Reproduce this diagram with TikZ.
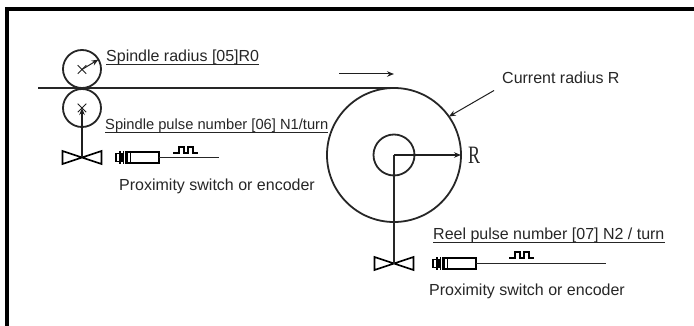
\documentclass[tikz,border=0pt]{standalone}
\usepackage{fontspec}
\setmainfont{Liberation Sans}
\newfontfamily\rfont{Liberation Serif}
\usetikzlibrary{shapes.misc, arrows.meta, positioning}

\begin{document}
\begin{tikzpicture}[
      x=1pt, y=-1pt,
      ink/.style={draw=black!85, line width=1.8pt},
      roll/.style={ink, circle, minimum size=38pt, inner sep=0pt, outer sep=0pt},
      rollmark/.style={cross out, draw=black!88, line width=1pt, minimum size=7.5pt, inner sep=0pt},
      lbl/.style={anchor=base west, inner sep=0pt, font=\fontsize{16}{18}\selectfont, text=black!85},
      arr/.style={-{Stealth[length=7pt, width=5.5pt]}, line width=1pt, draw=black!88},
      valve/.pic={\draw[line width=1.6pt] (-19.5,-6.5) -- (19.5,6.5) -- (19.5,-6.5) -- (-19.5,6.5) -- cycle;},
      sensor/.pic={
        \draw[line width=1.3pt] (0,-4) rectangle (6,4);
        \draw[line width=1.3pt] (10,-5.5) rectangle (43,5.5);
        \foreach \xrib in {4,7.5,11,14.5} \draw[line width=1.9pt] (\xrib,-6.5) -- (\xrib,6.5);
        \coordinate (-tail) at (43,0);
      },
      pulse/.pic={\draw[line width=1.1pt] (0,6) -- (6,6) -- (6,0) -- (11,0) -- (11,6) -- (15,6) -- (15,0) -- (20,0) -- (20,6) -- (25,6);}
    ]
      \useasboundingbox (0,0) rectangle (694,326);
      \draw[line width=4pt, black] (694,9) -- (7,9) -- (7,326);

      \node[roll] (rolltop) at (82,69)  {};
      \node[roll] (rollbot) at (82,108) {};
      \node[roll, minimum size=134pt] (reel) at (394,155) {};
      \node[roll, minimum size=41pt] (hub)  at (394,155) {};
      \node[rollmark] (marktop) at (82,69.5) {};
      \node[rollmark] (markbot) at (82,108)  {};

      \coordinate (webstart) at (38,88.5);
      \draw[ink, line width=2pt] (webstart) -- (webstart -| reel.north) -- (reel.north);

      \coordinate (valvespindle) at (82,157.5);
      \coordinate (valvereel)    at (394,263.5);
      \pic at (valvespindle) {valve};
      \pic at (valvereel)    {valve};
      \draw[arr, line width=1.7pt] (valvespindle) -- (markbot.center);
      \draw[ink] (hub.center) -- (valvereel);
      \draw[arr, line width=1.2pt] (hub.center) -- (reel.east);
      \draw[arr] (marktop.center) -- (rolltop.30);

      \pic (sensorspindle) at (116,157.5) {sensor};
      \pic (sensorreel)    at (433,263.5) {sensor};
      \coordinate (tailspindle) at (219,157.5);
      \coordinate (tailreel)    at (606,263.5);
      \draw[ink] (sensorspindle-tail) -- (tailspindle);
      \draw[ink] (sensorreel-tail) -- (tailreel);
      \pic at (173,147) {pulse};
      \pic at (509,252) {pulse};

      \coordinate (flowstart) at (339,74);
      \coordinate (flowend)   at (394,74);
      \draw[arr] (flowstart) -- (flowend);

      \node[lbl] (spindleradius) at (106,62)    {Spindle radius [05]R0};
      \node[lbl, font=\fontsize{14.7}{17}\selectfont] (spindlepulse)  at (105,130)   {Spindle pulse number [06] N1/turn};
      \node[lbl] (proxspindle)   at (119,190.5) {Proximity switch or encoder};
      \node[lbl] (currentradius) at (502,84)    {Current radius R};
      \node[lbl] (reelpulse)     at (433,240)   {Reel pulse number [07] N2 / turn};
      \node[lbl] (proxreel)      at (429,295)   {Proximity switch or encoder};
      \node[inner sep=0pt, xscale=.72, font=\rfont\fontsize{25}{27}\selectfont, text=black!85, right=7pt of reel.east] (radiuslabel) {R};

      \foreach \ulabel in {spindleradius, spindlepulse, reelpulse}
        \draw[line width=.9pt, black!85] ([yshift=-2.4pt]\ulabel.base west) -- ([yshift=-2.4pt]\ulabel.base east);

      \coordinate (currenttail) at (494,90.5);
      \draw[arr] (currenttail) -- (reel.35);
    \end{tikzpicture}
\end{document}
